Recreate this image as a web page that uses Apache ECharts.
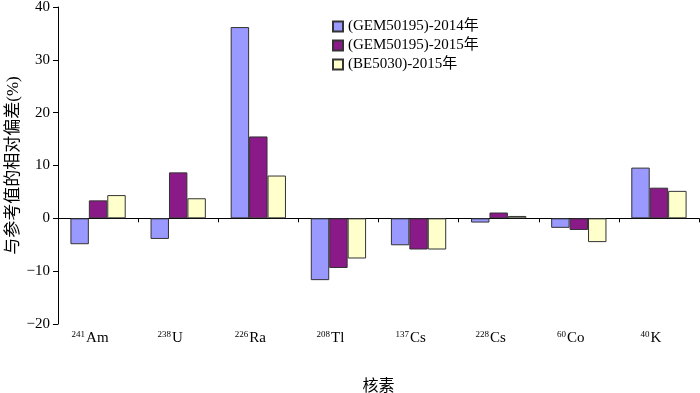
<!DOCTYPE html>
<html><head><meta charset="utf-8">
<script src="https://cdn.jsdelivr.net/npm/echarts@6/dist/echarts.min.js"></script>
<style>html,body{margin:0;padding:0;background:#fff}#c{width:700px;height:393px}</style>
</head><body><div id="c"></div>
<script>
const massNumbers = ['241','238','226','208','137','228','60','40'];
const elements = ['Am','U','Ra','Tl','Cs','Cs','Co','K'];
const seriesNames = ['(GEM50195)-2014年','(GEM50195)-2015年','(BE5030)-2015年'];
const gem2014 = [-4.9, -3.9, 36.2, -11.7, -5.1, -0.8, -1.8, 9.6];
const gem2015 = [3.4, 8.7, 15.5, -9.4, -5.9, 1.1, -2.2, 5.8];
const be2015 = [4.4, 3.8, 8.1, -7.6, -5.9, 0.45, -4.5, 5.2];
const yTicks = {min: -20, max: 40, interval: 10};
const xName = '核素';
const yName = '与参考值的相对偏差(%)';

const categories = massNumbers.map((m, i) => m + '|' + elements[i]);
const colors = ['#9999FF', '#8B1A89', '#FFFFCC'];
const font = '"Liberation Serif", "Noto Sans CJK SC", serif';
const values = [gem2014, gem2015, be2015];

const chart = echarts.init(document.getElementById('c'));
chart.setOption({
  animation: false,
  backgroundColor: '#fff',
  textStyle: {fontFamily: font, color: '#000'},
  grid: {left: 58, right: 1, top: 7, bottom: 69, containLabel: false, outerBoundsMode: 'none'},
  legend: {
    orient: 'vertical', left: 327, top: 14, itemGap: 4,
    itemWidth: 10, itemHeight: 10, icon: 'rect',
    textStyle: {fontFamily: font, fontSize: 15, color: '#000'},
    data: seriesNames
  },
  xAxis: [{
    type: 'category', data: categories, position: 'bottom',
    axisLine: {onZero: true, lineStyle: {color: '#000', width: 1}},
    axisTick: {show: true, length: 4, lineStyle: {color: '#000'}},
    axisLabel: {show: false}, splitLine: {show: false}
  }, {
    type: 'category', data: categories, position: 'bottom',
    axisLine: {show: false, onZero: false}, axisTick: {show: false},
    splitLine: {show: false},
    name: xName, nameLocation: 'middle', nameGap: 55, nameMoveOverlap: false,
    nameTextStyle: {fontFamily: font, fontSize: 16, color: '#000'},
    axisLabel: {
      margin: 6, interval: 0,
      formatter: v => { const p = v.split('|'); return '{sup|' + p[0] + '}{el|' + p[1] + '}'; },
      rich: {
        sup: {fontSize: 9, fontFamily: font, color: '#000', verticalAlign: 'bottom', lineHeight: 9, padding: [0, 1, 7, 0]},
        el: {fontSize: 15, fontFamily: font, color: '#000', lineHeight: 16, verticalAlign: 'bottom', padding: [0, 16, 0, 0]}
      }
    }
  }],
  yAxis: {
    type: 'value', min: yTicks.min, max: yTicks.max, interval: yTicks.interval,
    axisLine: {show: true, lineStyle: {color: '#000'}},
    axisTick: {show: true, length: 5, lineStyle: {color: '#000'}},
    splitLine: {show: false},
    axisLabel: {fontSize: 15, fontFamily: font, color: '#000', margin: 8,
      formatter: v => v < 0 ? '\u2212' + Math.abs(v) : String(v)},
    name: yName, nameLocation: 'middle', nameGap: 36, nameRotate: 90, nameMoveOverlap: false,
    nameTextStyle: {fontFamily: font, fontSize: 17, color: '#000'}
  },
  series: values.map((d, i) => ({
    name: seriesNames[i], type: 'bar', data: d, xAxisIndex: 0,
    barGap: 0, barCategoryGap: '31%',
    itemStyle: {color: colors[i], borderColor: '#333', borderWidth: 1}
  }))
});
</script></body></html>
